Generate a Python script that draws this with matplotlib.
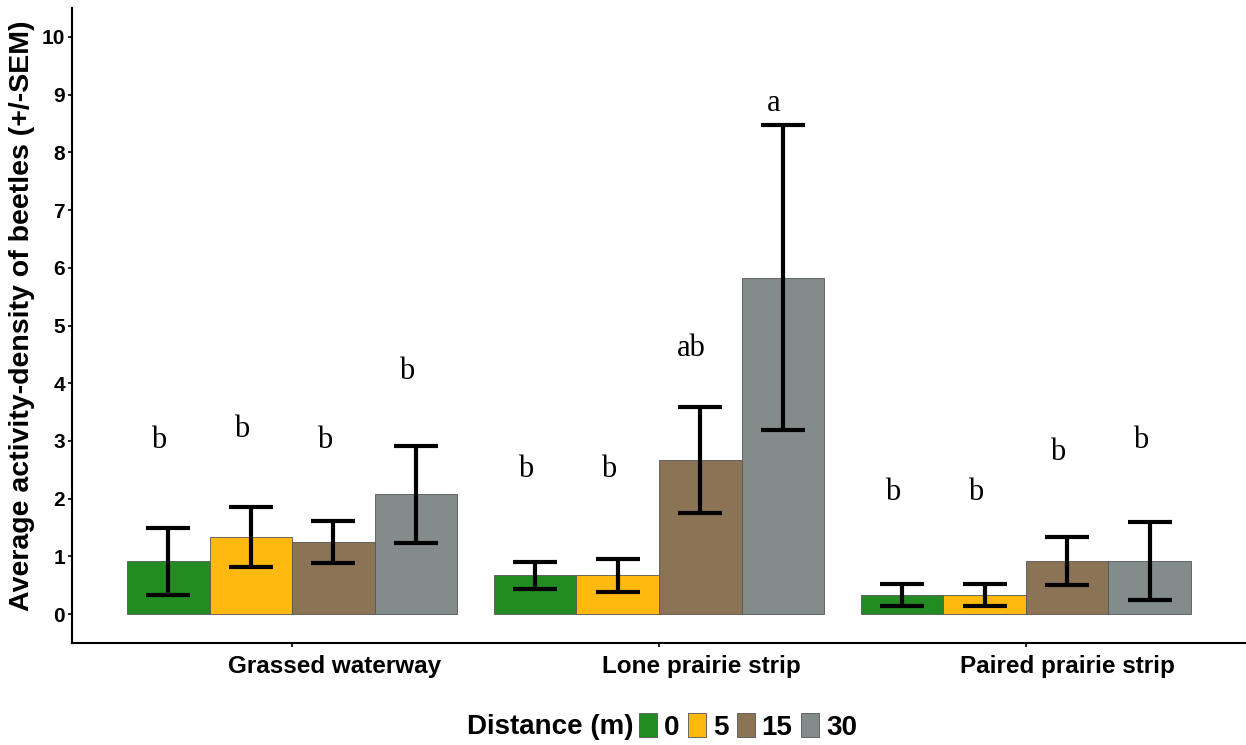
import numpy as np
import matplotlib.pyplot as plt
from matplotlib.patches import Patch
from matplotlib.transforms import ScaledTranslation

sites = ["Grassed waterway", "Lone prairie strip", "Paired prairie strip"]
distances = ["0", "5", "15", "30"]
colors = ["#228B22", "#FFB90F", "#8B7355", "#838B8B"]

# mean activity-density per site, one list per distance
mean_0 = [0.92, 0.67, 0.33]
mean_5 = [1.33, 0.67, 0.33]
mean_15 = [1.25, 2.67, 0.92]
mean_30 = [2.08, 5.83, 0.92]

sem_0 = [0.58, 0.23, 0.19]
sem_5 = [0.52, 0.29, 0.19]
sem_15 = [0.37, 0.92, 0.41]
sem_30 = [0.84, 2.64, 0.67]

# significance letters and the height they sit at
letters_0 = ["b", "b", "b"]
letters_5 = ["b", "b", "b"]
letters_15 = ["b", "ab", "b"]
letters_30 = ["b", "a", "b"]
letter_y_0 = [3.0, 2.5, 2.1]
letter_y_5 = [3.2, 2.5, 2.1]
letter_y_15 = [3.0, 4.6, 2.8]
letter_y_30 = [4.2, 8.85, 3.0]

means = [mean_0, mean_5, mean_15, mean_30]
sems = [sem_0, sem_5, sem_15, sem_30]
letters = [letters_0, letters_5, letters_15, letters_30]
letter_y = [letter_y_0, letter_y_5, letter_y_15, letter_y_30]

plt.rcParams["font.family"] = ["Liberation Sans", "DejaVu Sans"]

fig = plt.figure(figsize=(12.46, 7.45), dpi=100)
ax = fig.add_axes([72 / 1246, 1 - 643 / 745, 1 - 72 / 1246, (643 - 8) / 745])

x = np.arange(1, len(sites) + 1)
width = 0.225
offsets = (np.arange(len(distances)) - 1.5) * width

for i, d in enumerate(distances):
    xp = x + offsets[i]
    ax.bar(xp, means[i], width=width, color=colors[i], edgecolor="#555555",
           linewidth=0.6, zorder=2)
    ax.errorbar(xp, means[i], yerr=sems[i], fmt="none", ecolor="black",
                elinewidth=3, capsize=16, capthick=3, zorder=3)
    for xi, lab, ly in zip(xp, letters[i], letter_y[i]):
        ax.text(xi - 0.025, ly, lab, ha="center", va="center", fontsize=22,
                family="Liberation Serif", zorder=4)

ax.set_xlim(0.4, 3.6)
ax.set_ylim(-0.5, 10.5)
ax.set_yticks(range(0, 11))
ax.set_xticks(x)
ax.set_xticklabels(sites, fontsize=17.5, fontweight="bold")
ax.tick_params(axis="y", labelsize=15, length=3, width=1.2, pad=2)
ax.tick_params(axis="x", length=3, width=1.2, pad=6)
for lab in ax.get_yticklabels():
    lab.set_fontweight("bold")
shift = ScaledTranslation(0.42, 0, fig.dpi_scale_trans)
for lab in ax.get_xticklabels():
    lab.set_transform(lab.get_transform() + shift)

for side in ["top", "right"]:
    ax.spines[side].set_visible(False)
for side in ["left", "bottom"]:
    ax.spines[side].set_linewidth(1.5)

ax.set_ylabel("Average activity-density of beetles (+/-SEM)", fontsize=20.5,
              fontweight="bold")
ax.yaxis.set_label_coords(-0.0315, 0.515)

handles = [Patch(facecolor=c, edgecolor="#555555", linewidth=0.6) for c in colors]
fig.text(633 / 1246, 1 - 727 / 745, "Distance (m)", ha="right", va="center",
         fontsize=20, fontweight="bold")
leg = fig.legend(handles, distances, loc="center left",
                 bbox_to_anchor=(639 / 1246, 1 - 727 / 745), ncol=4,
                 frameon=False, handlelength=0.65, handleheight=0.95,
                 handletextpad=0.25, columnspacing=0.3, borderpad=0,
                 borderaxespad=0, prop={"size": 20, "weight": "bold"})

fig.savefig("out.png", dpi=100)
